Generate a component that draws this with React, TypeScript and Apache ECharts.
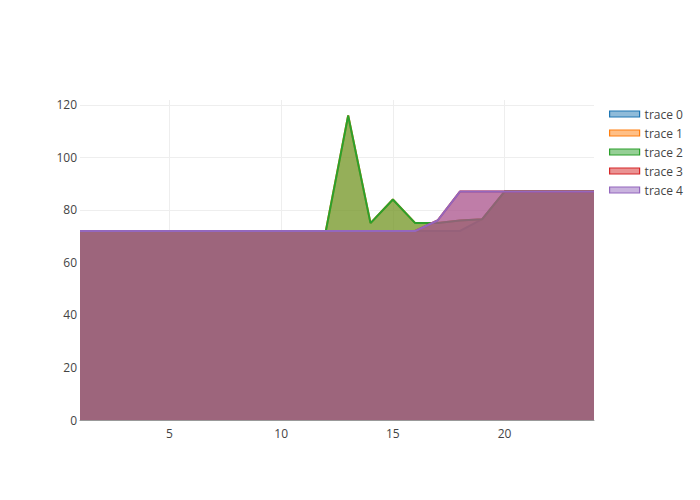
import React, { useEffect, useRef } from "react";
import * as echarts from "echarts";

const xValues = [1, 2, 3, 4, 5, 6, 7, 8, 9, 10, 11, 12, 13, 14, 15, 16, 17, 18, 19, 20, 21, 22, 23, 24];
const seriesNames = ["trace 0", "trace 1", "trace 2", "trace 3", "trace 4"];
const trace0 = [72, 72, 72, 72, 72, 72, 72, 72, 72, 72, 72, 72, 72, 72, 72, 72, 72, 72, 76.5, 87, 87, 87, 87, 87];
const trace1 = [72, 72, 72, 72, 72, 72, 72, 72, 72, 72, 72, 72, 116, 75, 84, 75, 75, 76, 76.5, 87, 87, 87, 87, 87];
const trace2 = [72, 72, 72, 72, 72, 72, 72, 72, 72, 72, 72, 72, 116, 75, 84, 75, 75, 76, 76.5, 87, 87, 87, 87, 87];
const trace3 = [72, 72, 72, 72, 72, 72, 72, 72, 72, 72, 72, 72, 72, 72, 72, 72, 76, 87, 87, 87, 87, 87, 87, 87];
const trace4 = [72, 72, 72, 72, 72, 72, 72, 72, 72, 72, 72, 72, 72, 72, 72, 72, 76, 87, 87, 87, 87, 87, 87, 87];
const allTraces = [trace0, trace1, trace2, trace3, trace4];
const colors = ["#1f77b4", "#ff7f0e", "#2ca02c", "#d62728", "#9467bd"];
const fills = [
  "rgba(31,119,180,0.5)",
  "rgba(255,127,14,0.5)",
  "rgba(44,160,44,0.5)",
  "rgba(214,39,40,0.5)",
  "rgba(148,103,189,0.5)",
];

const FONT = '"Open Sans", "Noto Sans", sans-serif';

export default function App() {
  const ref = useRef<HTMLDivElement>(null);
  useEffect(() => {
    if (!ref.current) return;
    const chart = echarts.init(ref.current, undefined, { renderer: "svg" });
    chart.setOption({
      animation: false,
      backgroundColor: "#fff",
      grid: { left: 80, right: 106, top: 100, bottom: 80, containLabel: false },
      legend: {
        orient: "vertical",
        left: 604,
        top: 102,
        itemWidth: 30,
        itemHeight: 6,
        itemGap: 5,
        icon: "rect",
        textStyle: { color: "#444", fontSize: 12, fontFamily: FONT, lineHeight: 14 },
        data: seriesNames.map((n, i) => ({
          name: n,
          itemStyle: { color: fills[i], borderColor: colors[i], borderWidth: 1.2 },
        })),
      },
      xAxis: {
        type: "value",
        min: 1,
        max: 24,
        splitNumber: 5,
        axisLine: { show: true, lineStyle: { color: "#999", width: 1 } },
        axisTick: { show: false },
        axisLabel: {
          color: "#444",
          fontSize: 12,
          fontFamily: FONT,
          margin: 7,
          showMinLabel: false,
          showMaxLabel: false,
        },
        splitLine: { show: true, showMinLine: false, showMaxLine: false, lineStyle: { color: "#eee", width: 1 } },
      },
      yAxis: {
        type: "value",
        min: 0,
        max: 121.9,
        interval: 20,
        axisLine: { show: false },
        axisTick: { show: false },
        axisLabel: {
          color: "#444",
          fontSize: 12,
          fontFamily: FONT,
          margin: 3,
          showMaxLabel: false,
        },
        splitLine: { show: true, showMinLine: false, showMaxLine: false, lineStyle: { color: "#eee", width: 1 } },
      },
      series: allTraces.map((vals, i) => ({
        name: seriesNames[i],
        type: "line",
        data: xValues.map((x, j) => [x, vals[j]]),
        showSymbol: false,
        symbol: "none",
        lineStyle: { color: colors[i], width: 2 },
        itemStyle: { color: colors[i] },
        areaStyle: { color: fills[i], opacity: 1, origin: "start" },
        z: 2 + i,
      })),
    });
    return () => chart.dispose();
  }, []);
  return <div ref={ref} style={{ width: 700, height: 500, margin: -8 }} />;
}
